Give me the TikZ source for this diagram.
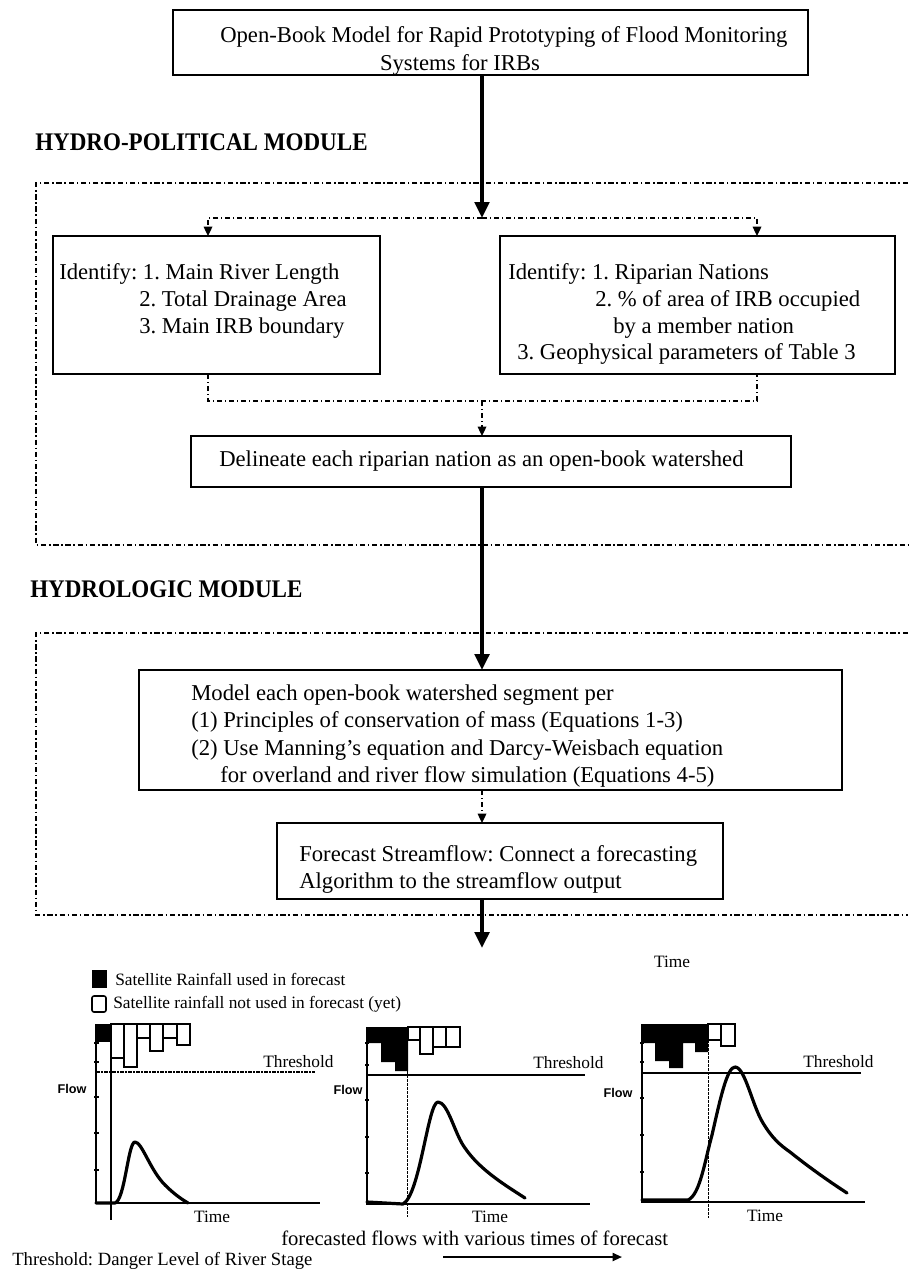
\documentclass[tikz,border=0pt]{standalone}
\usepackage{fontspec}
\setmainfont{Liberation Serif}
\newfontfamily\sansf{Liberation Sans}
\usetikzlibrary{arrows.meta}
\frenchspacing
\begin{document}
\begin{tikzpicture}[x=0.75pt,y=-0.75pt,
  box/.style={draw, line width=1.4pt, inner sep=0pt, outer sep=0pt},
  txt/.style={anchor=base west, inner sep=0pt, font=\fontsize{17}{20}\selectfont},
  ctxt/.style={anchor=base, inner sep=0pt, font=\fontsize{17}{20}\selectfont},
  hdr/.style={anchor=base west, inner sep=0pt, font=\fontsize{19}{22}\selectfont\bfseries},
  bigarrow/.style={line width=2.6pt, -{Triangle[length=12pt,width=11pt]}},
  ddline/.style={line width=0.9pt, dash pattern=on 4pt off 2pt on 1pt off 2pt},
  ddarrow/.style={ddline, -{Triangle[length=7pt,width=6.5pt]}},
  frame/.style={line width=1.1pt, dash pattern=on 4pt off 2pt on 1.2pt off 2pt},
  small/.style={inner sep=0pt, font=\fontsize{13}{15}\selectfont},
  flowlbl/.style={inner sep=0pt, font=\sansf\bfseries\fontsize{9.5}{11}\selectfont},
  axis/.style={line width=1.6pt},
  hydro/.style={line width=2.4pt, line cap=round, line join=round},
  rain/.style={draw, line width=1.3pt},
  fcline/.style={line width=0.7pt, dash pattern=on 2pt off 1pt},
  tick/.style={line width=1pt}
]
\useasboundingbox (0,0) rectangle (908,1270);

% axis coordinates
\coordinate (ax) at (482,0);
\coordinate (la) at (208,0);
\coordinate (ra) at (757,0);
\coordinate (split) at (482,218);
\coordinate (merge) at (482,401);
\coordinate (endarr) at (482,948);

% frames of the modules
\draw[frame] (908,183) -- (36,183) -- (36,545) -- (908,545);
\draw[frame] (908,633) -- (36,633) -- (36,915) -- (908,915);

% boxes
\node[box, minimum width=635*0.75pt, minimum height=65*0.75pt] (top) at (490.5,42.5) {};
\node[box, minimum width=327*0.75pt, minimum height=138*0.75pt] (left) at (216.5,305) {};
\node[box, minimum width=395*0.75pt, minimum height=138*0.75pt] (right) at (697.5,305) {};
\node[box, minimum width=600*0.75pt, minimum height=51*0.75pt] (delin) at (491,461.5) {};
\node[box, minimum width=703*0.75pt, minimum height=120*0.75pt] (model) at (490.5,730) {};
\node[box, minimum width=446*0.75pt, minimum height=76*0.75pt] (fore) at (500,861) {};

% texts in boxes
\node[txt] (t1) at (220,43) {Open-Book Model for Rapid Prototyping of Flood Monitoring};
\node[ctxt] (t2) at (460,70) {Systems for IRBs};

\node[hdr] (h1) at (35,150) {\scalebox{0.91}[1]{HYDRO-POLITICAL MODULE}};
\node[hdr] (h2) at (30,597) {\scalebox{0.91}[1]{HYDROLOGIC MODULE}};

\node[txt] (l1) at (59,279) {Identify: 1. Main River Length};
\node[txt] (l2) at (139,306) {2. Total Drainage Area};
\node[txt] (l3) at (139,333) {3. Main IRB boundary};

\node[txt] (r1) at (508,279) {Identify: 1. Riparian Nations};
\node[txt] (r2) at (595,306) {2. \% of area of IRB occupied};
\node[txt] (r3) at (613,333) {by a member nation};
\node[txt] (r4) at (517,359) {3. Geophysical parameters of Table 3};

\node[txt] (d1) at (219,466) {Delineate each riparian nation as an open-book watershed};

\node[txt] (m1) at (191,700) {Model each open-book watershed segment per};
\node[txt] (m2) at (191,727) {(1) Principles of conservation of mass (Equations 1-3)};
\node[txt] (m3) at (191,755) {(2) Use Manning's equation and Darcy-Weisbach equation};
\node[txt] (m4) at (220,782) {for overland and river flow simulation (Equations 4-5)};

\node[txt] (f1) at (299,861) {Forecast Streamflow: Connect a forecasting};
\node[txt] (f2) at (299,888) {Algorithm to the streamflow output};

% connectors
\draw[bigarrow] (top.south -| ax) -- (split);
\draw[ddarrow] (split) -| (left.north -| la);
\draw[ddarrow] (split) -| (right.north -| ra);
\draw[ddline] (left.south -| la) |- (merge) -| (right.south -| ra);
\draw[ddarrow] (merge) -- (delin.north -| ax);
\draw[bigarrow] (delin.south -| ax) -- (model.north -| ax);
\draw[ddarrow] (model.south -| ax) -- (fore.north -| ax);
\draw[bigarrow] (fore.south -| ax) -- (endarr);

% legend
\fill (92,970) rectangle (107,988);
\node[small, anchor=base west] (lg1) at (115,985) {Satellite Rainfall used in forecast};
\draw[line width=1.2pt, rounded corners=1.5pt] (92,996) rectangle (106,1012);
\node[small, anchor=base west] (lg2) at (113,1008) {Satellite rainfall not used in forecast (yet)};
\node[small] (tt) at (672,962) {Time};

% ---------- chart 1 ----------
\fill (96,1024) rectangle (110,1042);
\draw[rain] (111,1024) rectangle (124,1058);
\draw[rain] (124,1024) rectangle (137,1067);
\draw[rain] (137,1024) rectangle (150,1038);
\draw[rain] (150,1024) rectangle (163,1051);
\draw[rain] (163,1024) rectangle (177,1038);
\draw[rain] (177,1024) rectangle (190,1045);
\draw[axis] (96,1024) -- (96,1203) -- (320,1203);
\draw[line width=1pt] (111,1024) -- (111,1220);
\foreach \yy in {1043,1062,1097,1133,1170} \draw[tick] (94,\yy) -- (99,\yy);
\draw[line width=0.9pt, dash pattern=on 3pt off 1pt on 1pt off 1pt] (96,1072) -- (315,1072);
\node[small, anchor=base west] (th1) at (263,1067) {Threshold};
\node[flowlbl] (fl1) at (72,1089) {Flow};
\draw[hydro] (96,1203) -- (115,1203) .. controls (125,1200) and (128,1142) .. (135,1142)
  .. controls (142,1142) and (150,1170) .. (165,1185) .. controls (175,1195) and (183,1200) .. (188,1203);
\node[small, anchor=base] (ti1) at (212,1222) {Time};

% ---------- chart 2 ----------
\fill (367,1027) -- (408,1027) -- (408,1071) -- (395,1071) -- (395,1062) -- (381,1062) -- (381,1043) -- (367,1043) -- cycle;
\draw[rain] (408,1027) rectangle (420,1040);
\draw[rain] (420,1027) rectangle (433,1054);
\draw[rain] (433,1027) rectangle (446,1047);
\draw[rain] (446,1027) rectangle (460,1047);
\draw[axis] (367,1027) -- (367,1204) -- (590,1204);
\draw[fcline] (407,1027) -- (407,1217);
\foreach \yy in {1043,1065,1100,1137,1173} \draw[tick] (365,\yy) -- (369,\yy);
\draw[line width=1pt] (367,1075) -- (585,1075);
\node[small, anchor=base west] (th2) at (533,1068) {Threshold};
\node[flowlbl] (fl2) at (348,1090) {Flow};
\draw[hydro] (367,1202) -- (403,1204) .. controls (420,1195) and (428,1102) .. (438,1102)
  .. controls (448,1102) and (455,1135) .. (465,1148) .. controls (480,1170) and (505,1185) .. (525,1198);
\node[small, anchor=base] (ti2) at (490,1222) {Time};

% ---------- chart 3 ----------
\fill (642,1024) -- (708,1024) -- (708,1052) -- (695,1052) -- (695,1043) -- (683,1043) -- (683,1068)
  -- (669,1068) -- (669,1061) -- (655,1061) -- (655,1043) -- (642,1043) -- cycle;
\draw[rain] (708,1024) rectangle (721,1040);
\draw[rain] (721,1024) rectangle (735,1046);
\draw[axis] (642,1024) -- (642,1202) -- (865,1202);
\draw[fcline] (708,1024) -- (708,1218);
\foreach \yy in {1043,1062,1098,1135,1172} \draw[tick] (640,\yy) -- (644,\yy);
\draw[line width=1pt] (642,1073) -- (861,1073);
\node[small, anchor=base west] (th3) at (803,1067) {Threshold};
\node[flowlbl] (fl3) at (618,1093) {Flow};
\draw[hydro] (642,1200) -- (688,1200) .. controls (700,1195) and (705,1160) .. (712,1135)
  .. controls (720,1100) and (727,1067) .. (735,1067) .. controls (745,1067) and (752,1105) .. (763,1123)
  .. controls (772,1138) and (780,1145) .. (790,1152) .. controls (810,1168) and (830,1182) .. (847,1193);
\node[small, anchor=base] (ti3) at (765,1221) {Time};

% bottom texts
\node[inner sep=0pt, anchor=base west, font=\fontsize{15.5}{18}\selectfont] (fc) at (281,1245) {forecasted flows with various times of forecast};
\coordinate (fa1) at (443,1257);
\coordinate (fa2) at (622,1257);
\draw[line width=1.4pt, -{Triangle[length=7pt,width=6pt]}] (fa1) -- (fa2);
\node[inner sep=0pt, anchor=base west, font=\fontsize{14}{16}\selectfont] (thd) at (12,1265) {Threshold: Danger Level of River Stage};
\end{tikzpicture}
\end{document}
